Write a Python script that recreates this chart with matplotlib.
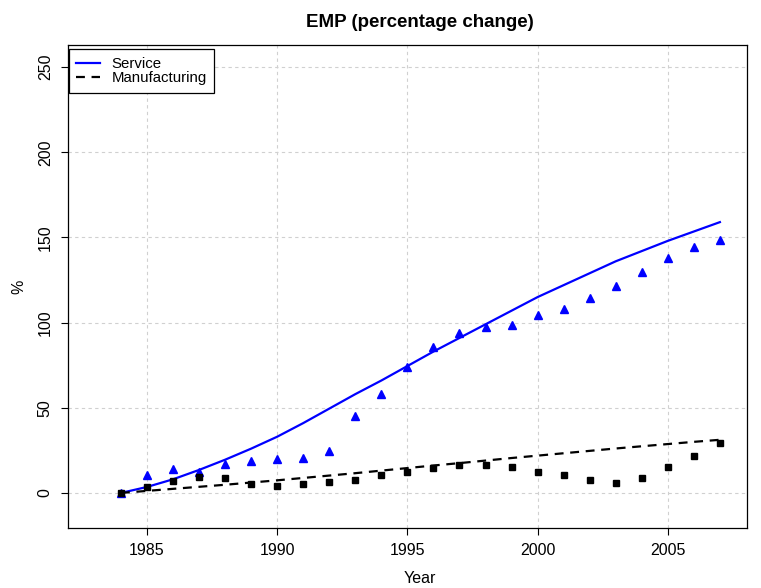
import matplotlib
matplotlib.use('Agg')
import matplotlib.pyplot as plt

plt.rcParams['font.family'] = ['Liberation Sans', 'DejaVu Sans']

# Years and observed percentage change
years = list(range(1984, 2008))
service_obs = [0, 10.6, 13.9, 12.3, 17.0, 19.0, 19.8, 20.6, 24.9, 45.4, 58.3, 73.8,
               85.9, 94.0, 97.5, 98.6, 104.3, 108.2, 114.7, 121.5, 129.9, 138.0, 144.5, 148.6]
manuf_obs = [0, 3.7, 7.0, 9.6, 9.0, 5.3, 4.3, 5.5, 6.6, 7.8, 10.7, 12.5,
             14.9, 16.4, 16.6, 15.4, 12.5, 10.7, 7.8, 6.0, 9.0, 15.4, 21.9, 29.5]
# Fitted trend values
service_fit = [0, 3.5, 8, 13.5, 19.5, 26, 33, 41, 49.5, 58, 66, 74.5,
               83, 91, 99, 107, 115, 122, 129, 136, 142, 148, 153.5, 159]
manuf_fit = [0, 1.2, 2.4, 3.6, 4.8, 6.1, 7.4, 8.8, 10.2, 11.6, 13.1, 14.6,
             16.1, 17.5, 19, 20.5, 21.9, 23.3, 24.7, 26.1, 27.4, 28.7, 30, 31.2]

fig = plt.figure(figsize=(7.61, 5.88), dpi=100)
ax = fig.add_axes([0.0894, 0.102, 0.8922, 0.8215])

ax.grid(True, color='#d0d0d0', linestyle=(0, (3, 3)), linewidth=0.8)
ax.set_axisbelow(True)

ax.plot(years, service_fit, color='blue', linewidth=1.6, label='Service')
ax.plot(years, manuf_fit, color='black', linewidth=1.6, linestyle=(0, (4, 3)), label='Manufacturing')
ax.plot(years, service_obs, '^', color='blue', markersize=5.5, linestyle='none')
ax.plot(years, manuf_obs, 's', color='black', markersize=4.8, linestyle='none')

ax.set_xlim(1981.97, 2008.04)
ax.set_ylim(-20.6, 263)
ax.set_xticks([1985, 1990, 1995, 2000, 2005])
ax.set_yticks([0, 50, 100, 150, 200, 250])
ax.tick_params(axis='both', direction='out', length=5, width=0.8, labelsize=11.5, pad=6)
for lab in ax.get_yticklabels():
    lab.set_rotation(90)
    lab.set_va('center')
for sp in ax.spines.values():
    sp.set_linewidth(0.9)

ax.set_xlabel('Year', fontsize=11.5)
ax.xaxis.set_label_coords(0.518, -0.088)
ax.set_ylabel('%', fontsize=11.5)
ax.yaxis.set_label_coords(-0.061, 0.5)
ax.set_title('EMP (percentage change)', fontsize=13.5, fontweight='bold', x=0.518, pad=13)

leg = ax.legend(loc='upper left', bbox_to_anchor=(0.001, 0.991), borderaxespad=0,
                fancybox=False, edgecolor='black', framealpha=1, fontsize=10.8,
                handlelength=1.6, labelspacing=0.03, borderpad=0.5, handletextpad=0.75)
leg.get_frame().set_linewidth(0.9)

fig.savefig('out.png', dpi=100)
